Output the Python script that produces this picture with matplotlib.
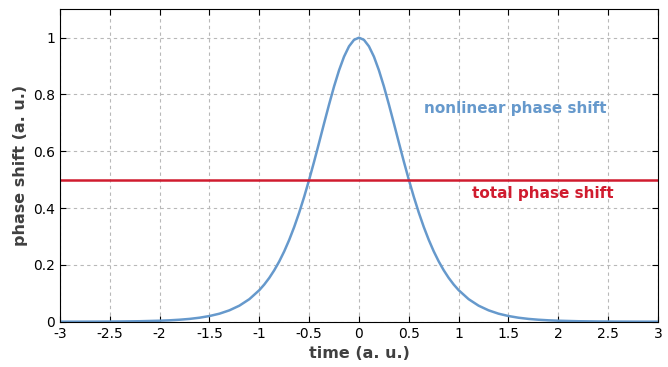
import matplotlib.pyplot as plt

# values (curve is symmetric around t = 0)
t_half = [0.0, 0.05, 0.1, 0.15, 0.2, 0.25, 0.3, 0.35, 0.4, 0.45, 0.5,
          0.55, 0.6, 0.65, 0.7, 0.75, 0.8, 0.85, 0.9, 0.95, 1.0,
          1.1, 1.2, 1.3, 1.4, 1.5, 1.6, 1.7, 1.8, 1.9, 2.0,
          2.2, 2.4, 2.6, 2.8, 3.0]
phi_half = [1.0, 0.9923, 0.9695, 0.9332, 0.8852, 0.8284, 0.765, 0.6986, 0.6308, 0.564, 0.5,
            0.4398, 0.3842, 0.3336, 0.2882, 0.2478, 0.2123, 0.1813, 0.1543, 0.1311, 0.1111,
            0.0794, 0.0565, 0.0401, 0.0283, 0.02, 0.0141, 0.0099, 0.007, 0.0049, 0.0035,
            0.0017, 0.00085, 0.00042, 0.0002, 0.0001]
total_shift = 0.5

t = [-v for v in t_half[:0:-1]] + t_half
phi = phi_half[:0:-1] + phi_half

blue = "#6699cc"
red = "#d01c2f"

fig = plt.figure(figsize=(6.68, 3.67), dpi=100)
ax = fig.add_axes([0.0898, 0.1234, 0.8952, 0.8513])

ax.plot(t, phi, color=blue, lw=1.8)
ax.axhline(total_shift, color=red, lw=1.8)

ax.set_xlim(-3, 3)
ax.set_ylim(0, 1.1)
ax.set_xticks([-3, -2.5, -2, -1.5, -1, -0.5, 0, 0.5, 1, 1.5, 2, 2.5, 3])
ax.set_xticklabels(["-3", "-2.5", "-2", "-1.5", "-1", "-0.5", "0", "0.5", "1", "1.5", "2", "2.5", "3"])
ax.set_yticks([0, 0.2, 0.4, 0.6, 0.8, 1])
ax.set_yticklabels(["0", "0.2", "0.4", "0.6", "0.8", "1"])
ax.tick_params(direction="in", top=True, right=True, labelsize=10, length=4)
ax.grid(True, color="#b8b8b8", ls=(0, (3, 3)), lw=0.8)
ax.set_axisbelow(True)

ax.set_xlabel("time (a. u.)", fontsize=11.5, fontweight="bold", color="#404040")
ax.set_ylabel("phase shift (a. u.)", fontsize=11.5, fontweight="bold", color="#404040")

ax.text(0.65, 0.75, "nonlinear phase shift", color=blue, fontsize=11, fontweight="bold", va="center")
ax.text(1.13, 0.45, "total phase shift", color=red, fontsize=11, fontweight="bold", va="center")

fig.savefig("out.png", dpi=100)
